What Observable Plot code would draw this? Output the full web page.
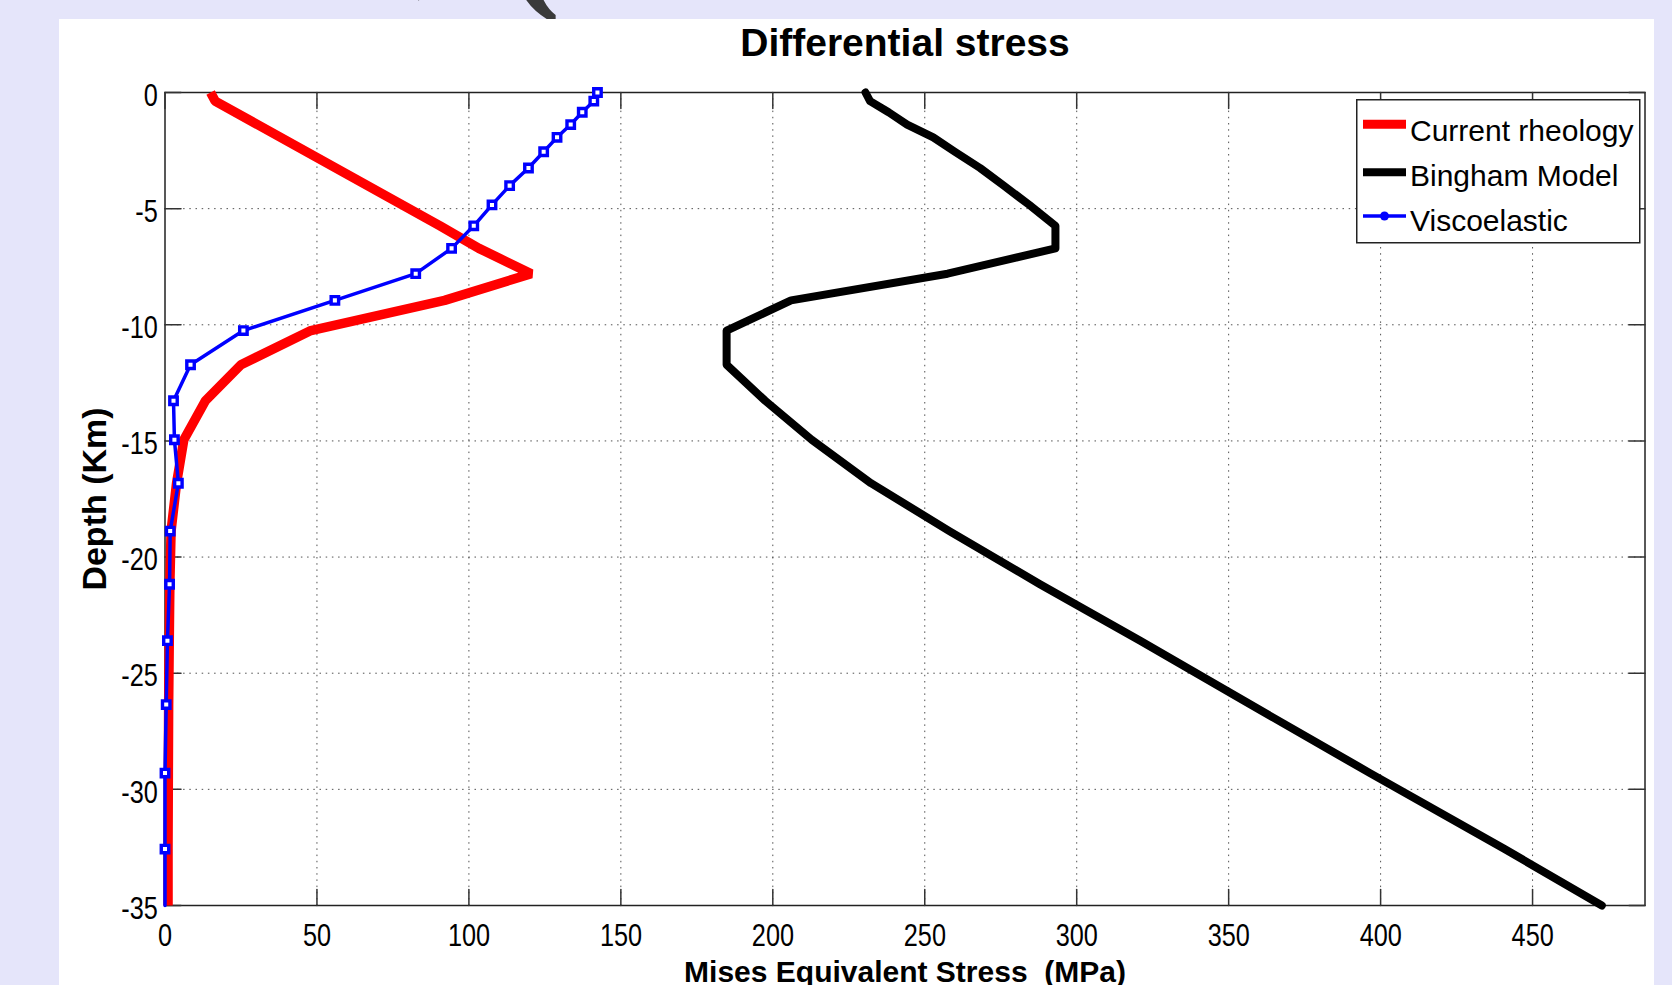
<!DOCTYPE html>
<html><head><meta charset="utf-8">
<script src="https://cdn.jsdelivr.net/npm/d3@7"></script>
<script src="https://cdn.jsdelivr.net/npm/@observablehq/plot@0.6"></script>
<style>
html,body{margin:0;padding:0;background:#E5E5FA;width:1672px;height:985px;overflow:hidden;font-family:"Liberation Sans",Arial,Helvetica,sans-serif;}
#cut{position:absolute;left:0;top:0;}
#panel{position:absolute;left:59px;top:19px;width:1595px;height:966px;background:#fff;overflow:hidden;}
#chart{position:absolute;left:0;top:0;}
#legend{position:absolute;left:1297px;top:80px;}
</style></head><body>
<svg id="cut" width="1672" height="19"><text x="506" y="-11" font-family="Liberation Serif" font-weight="bold" font-size="165" fill="#3a3a3a">(</text><text x="416" y="-23" font-family="Liberation Serif" font-weight="bold" font-size="150" fill="#3a3a3a">,</text></svg>
<div id="panel"><div id="chart"></div><svg id="legend" width="286" height="146"></svg></div>
<script>
// ---- data ----
const title = "Differential stress";
const xLabel = "Mises Equivalent Stress  (MPa)";
const yLabel = "Depth (Km)";
const seriesNames = ["Current rheology", "Bingham Model", "Viscoelastic"];
const seriesColors = ["#ff0000", "#000000", "#0000ff"];
const xTicks = [0, 50, 100, 150, 200, 250, 300, 350, 400, 450];
const yTicks = [0, -5, -10, -15, -20, -25, -30, -35];

// depth nodes (km) shared by Bingham and Viscoelastic
const nodeDepth = [0, -0.37, -0.85, -1.38, -1.93, -2.55, -3.25, -4.01, -4.84, -5.74, -6.71, -7.80, -8.95, -10.25, -11.72, -13.27, -14.95, -16.82, -18.88, -21.17, -23.6, -26.35, -29.3, -32.57, -35];
const viscoStress = [142.3, 141.1, 137.3, 133.5, 129.0, 124.6, 119.6, 113.4, 107.6, 101.6, 94.3, 82.5, 55.9, 25.8, 8.4, 2.8, 3.1, 4.4, 1.7, 1.5, 0.8, 0.4, 0, 0, 0];
const binghamStress = [230.5, 232.0, 238.1, 244.2, 252.8, 259.9, 268.2, 276.0, 284.4, 293.0, 293.0, 257.5, 206.0, 184.8, 184.8, 197.5, 212.8, 232.3, 258.1, 287.9, 320.9, 357.2, 396.5, 440.8, 472.8];
// current rheology (visible vertices)
const currentDepth = [0, -0.37, -5.74, -6.71, -7.80, -8.95, -10.25, -11.72, -13.27, -14.95, -16.82, -18.88, -21.17, -23.6, -26.35, -29.3, -32.57, -35];
const currentStress = [15.0, 16.5, 90.5, 103.3, 120.5, 92.0, 48.0, 25.0, 13.3, 6.2, 3.8, 2.0, 1.6, 1.4, 1.2, 1.1, 1.0, 1.0];

const current = currentDepth.map((d, i) => ({depth: d, stress: currentStress[i]}));
const bingham = nodeDepth.map((d, i) => ({depth: d, stress: binghamStress[i]}));
const visco = nodeDepth.map((d, i) => ({depth: d, stress: viscoStress[i]}));

const tickShape = {draw(ctx, l) { ctx.moveTo(0, 0); ctx.lineTo(0, -l); }};
const gridStyle = {stroke: "#333", strokeOpacity: 0.85, strokeWidth: 1, strokeDasharray: "1.5,4.7"};
const tickStyle = {length: 16, shape: tickShape, anchor: "start", stroke: "#333", strokeWidth: 1.5};

const chart = Plot.plot({
  width: 1595, height: 966,
  marginLeft: 105.5, marginRight: 9.5, marginTop: 73, marginBottom: 80,
  x: {domain: [0, 487]},
  y: {domain: [-35, 0]},
  style: {fontFamily: '"Liberation Sans", Arial, Helvetica, sans-serif', color: "#000", background: "white", overflow: "visible"},
  marks: [
    Plot.gridX(xTicks.slice(1), gridStyle),
    Plot.gridY(yTicks.slice(1, -1), gridStyle),
    Plot.frame({stroke: "#222", strokeWidth: 1.5}),
    Plot.vector(xTicks, {x: d => d, y: -35, rotate: 0, ...tickStyle}),
    Plot.vector(xTicks, {x: d => d, y: 0, rotate: 180, ...tickStyle}),
    Plot.vector(yTicks, {x: 0, y: d => d, rotate: 90, ...tickStyle}),
    Plot.vector(yTicks, {x: 487, y: d => d, rotate: 270, ...tickStyle}),
    Plot.axisX({ticks: xTicks, tickSize: 0, tickPadding: 18, fontSize: 32, tickFormat: d => String(d), label: null}),
    Plot.axisY({ticks: yTicks, tickSize: 0, tickPadding: 6, dy: 3, fontSize: 32, tickFormat: d => String(d), label: null}),
    Plot.line(current, {x: "stress", y: "depth", stroke: seriesColors[0], strokeWidth: 9.5, strokeLinejoin: "miter", strokeLinecap: "butt"}),
    Plot.line(bingham, {x: "stress", y: "depth", stroke: seriesColors[1], strokeWidth: 8, strokeLinejoin: "round", strokeLinecap: "round"}),
    Plot.line(visco, {x: "stress", y: "depth", stroke: seriesColors[2], strokeWidth: 3.5}),
    Plot.dot(visco.filter(d => d.depth > -35), {x: "stress", y: "depth", symbol: "square", r: 4.2, stroke: seriesColors[2], strokeWidth: 3.4, fill: "white"}),
    Plot.text([title], {frameAnchor: "top", dy: -49, fontSize: 39, fontWeight: "bold", lineAnchor: "middle", textAnchor: "middle"}),
    Plot.text([xLabel], {frameAnchor: "bottom", dy: 67, fontSize: 30, fontWeight: "bold", lineAnchor: "middle", textAnchor: "middle"}),
    Plot.text([yLabel], {frameAnchor: "left", dx: -69.5, rotate: -90, fontSize: 34, fontWeight: "bold", lineAnchor: "middle", textAnchor: "middle"})
  ]
});
document.getElementById("chart").appendChild(chart);

// narrow tick labels (scale horizontally about their anchor)
const svgR = chart.getBoundingClientRect();
function narrow(sel, mode, s) {
  const items = [...chart.querySelectorAll(sel)].map(t => {
    const r = t.getBoundingClientRect();
    return [t, (mode === "end" ? r.right : (r.left + r.right) / 2) - svgR.left];
  });
  items.forEach(([t, px]) => {
    const g = document.createElementNS("http://www.w3.org/2000/svg", "g");
    g.setAttribute("transform", `translate(${px},0) scale(${s},1) translate(${-px},0)`);
    t.parentNode.insertBefore(g, t);
    g.appendChild(t);
  });
}
narrow('g[aria-label="x-axis tick label"] text', "middle", 0.79);
narrow('g[aria-label="y-axis tick label"] text', "end", 0.79);

// legend
const lg = d3.select("#legend");
lg.append("rect").attr("x", 0.75).attr("y", 0.75).attr("width", 283).attr("height", 143).attr("fill", "white").attr("stroke", "#222").attr("stroke-width", 1.5);
const rowLineY = [25.2, 73.2, 117];
const rowTextY = [42.4, 86.7, 132.4];
const rowWidth = [9, 8, 3.5];
seriesNames.forEach((name, i) => {
  lg.append("line").attr("x1", 7).attr("x2", 50).attr("y1", rowLineY[i]).attr("y2", rowLineY[i]).attr("stroke", seriesColors[i]).attr("stroke-width", rowWidth[i]);
  lg.append("text").attr("x", 54).attr("y", rowTextY[i]).attr("font-size", 30).attr("font-family", '"Liberation Sans", Arial, sans-serif').attr("fill", "#000").text(name);
});
lg.append("circle").attr("cx", 28.5).attr("cy", rowLineY[2]).attr("r", 4.5).attr("fill", seriesColors[2]);
lg.append("circle").attr("cx", 28.5).attr("cy", rowLineY[1]).attr("r", 2).attr("fill", "#000");
</script>
</body></html>
